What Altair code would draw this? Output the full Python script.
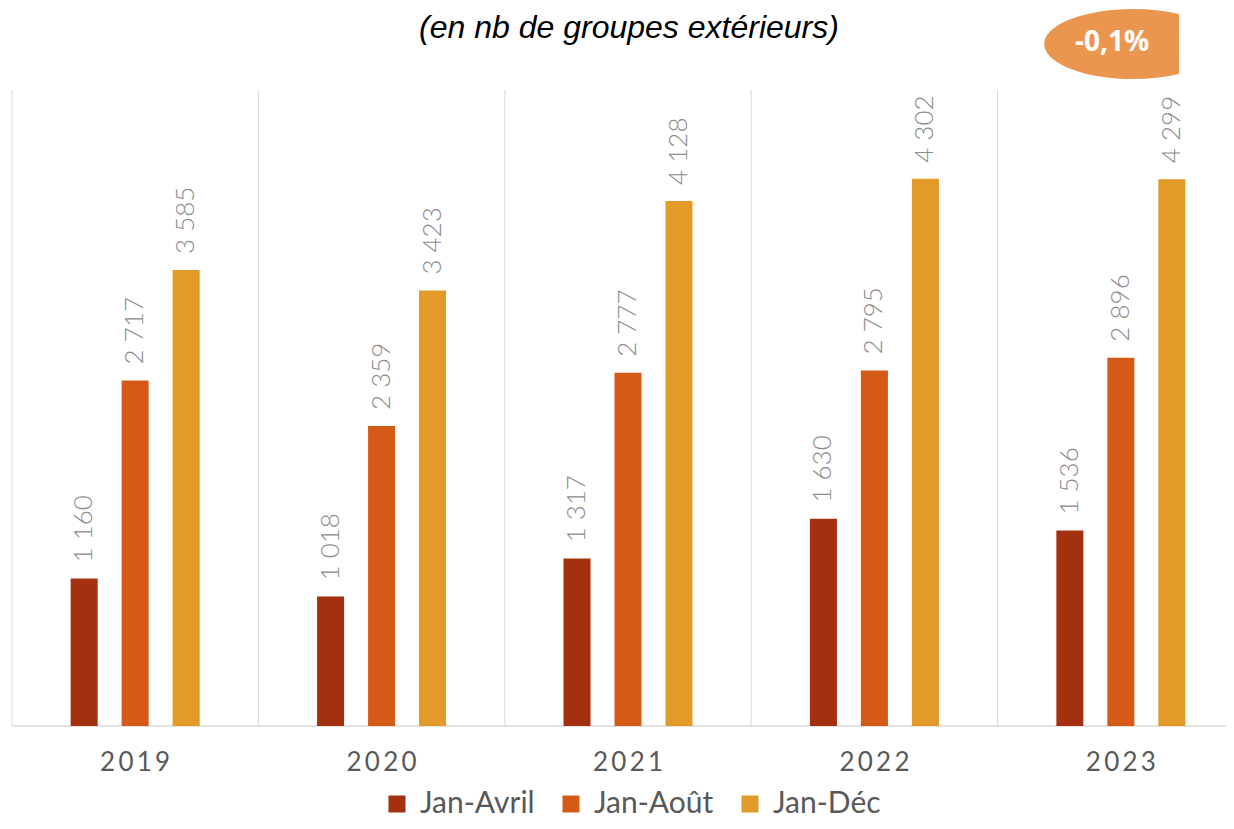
import altair as alt
import pandas as pd

years = ["2019", "2020", "2021", "2022", "2023"]
periods = ["Jan-Avril", "Jan-Août", "Jan-Déc"]
jan_avril = [1160, 1018, 1317, 1630, 1536]
jan_aout = [2717, 2359, 2777, 2795, 2896]
jan_dec = [3585, 3423, 4128, 4302, 4299]
colors = ["#A5300F", "#D65A17", "#E29A28"]

subtitle = "(en nb de groupes extérieurs)"
badge_text = "-0,1%"

rows = []
for i, y in enumerate(years):
    for p, vals in zip(periods, [jan_avril, jan_aout, jan_dec]):
        rows.append({"year": y, "period": p, "value": vals[i]})
df = pd.DataFrame(rows)
df["label"] = df["value"].map(lambda v: f"{v:,}".replace(",", " "))

W, H = 1214, 636
x_scale = alt.Scale(domain=years, range=[0, 1232], paddingInner=0.4765, paddingOuter=0.238)
x_grid_scale = alt.Scale(domain=years, range=[0, 1232], paddingInner=0, paddingOuter=0)
y_scale = alt.Scale(domain=[0, 5000])
off_scale = alt.Scale(domain=periods, paddingInner=0.47, paddingOuter=0)

base = alt.Chart(df)

grid = alt.Chart(pd.DataFrame({"year": years})).mark_rule(color="#D9D9D9", strokeWidth=1).encode(
    x=alt.X("year:N", scale=x_grid_scale, bandPosition=0, axis=None),
    y=alt.datum(5000),
    y2=alt.datum(0),
)

baseline = alt.Chart(pd.DataFrame({"v": [0]})).mark_rule(color="#D9D9D9", strokeWidth=1.5).encode(
    x=alt.value(0), x2=alt.value(1240), y=alt.Y("v:Q")
)

bars = base.mark_bar().encode(
    x=alt.X(
        "year:N",
        scale=x_scale,
        sort=years,
        axis=alt.Axis(
            title=None,
            labelExpr="join(split(datum.label, ''), '\u2009')",
            labelFontSize=26,
            labelColor="#595959",
            labelFont="Lato",
            labelPadding=23,
            labelAngle=0,
            ticks=False,
            domain=False,
            grid=False,
        ),
    ),
    xOffset=alt.XOffset("period:N", scale=off_scale, sort=periods),
    y=alt.Y("value:Q", scale=y_scale, axis=None),
    color=alt.Color(
        "period:N",
        sort=periods,
        scale=alt.Scale(domain=periods, range=colors),
        legend=alt.Legend(
            title=None,
            orient="none",
            legendX=370,
            legendY=699,
            direction="horizontal",
            symbolType="square",
            symbolSize=289,
            symbolStrokeWidth=0,
            symbolOpacity=1,
            labelFontSize=30,
            labelColor="#595959",
            labelFont="Lato",
            labelOffset=8,
            columnPadding=21,
            padding=0,
        ),
    ),
)

labels = base.mark_text(
    angle=270, align="left", baseline="middle", dx=16,
    fontSize=26, font="Lato", fontWeight=300, color="#8C8C8C",
).encode(
    x=alt.X("year:N", scale=x_scale, sort=years),
    xOffset=alt.XOffset("period:N", scale=off_scale, sort=periods),
    y=alt.Y("value:Q", scale=y_scale),
    text="label:N",
)

one = pd.DataFrame({"t": [badge_text], "s": [subtitle]})
badge_shape = "M0.517,-0.337 A1,0.393 0 1,0 0.517,0.337 Z"
badge = alt.Chart(one).mark_point(
    shape=badge_shape, size=31684, filled=True, fill="#EB964F", opacity=1, strokeWidth=0
).encode(x=alt.value(1121), y=alt.value(-46))

badge_lbl = alt.Chart(one).mark_text(
    fontSize=28, font="Open Sans", fontWeight="bold", color="white", align="center", baseline="middle"
).encode(x=alt.value(1100), y=alt.value(-47), text="t:N")

sub = alt.Chart(one).mark_text(
    fontSize=32, font="Liberation Sans", fontStyle="italic", color="#000000", align="center", baseline="middle"
).encode(x=alt.value(617), y=alt.value(-62), text="s:N")

main = alt.layer(bars, labels).resolve_scale(x="shared")

chart = alt.layer(grid, baseline, main, badge, badge_lbl, sub).resolve_scale(x="independent").properties(
    width=W, height=H,
    autosize=alt.AutoSizeParams(type="none"),
    padding={"left": 4, "top": 82, "right": 0, "bottom": 95},
).configure_view(stroke=None)

chart.save("out.html", embed_options={"renderer": "svg", "actions": False})
